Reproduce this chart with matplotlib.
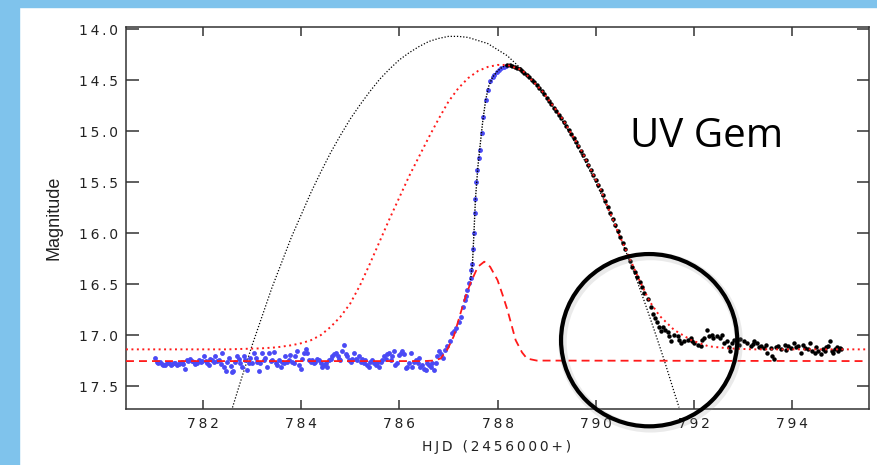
import numpy as np
import matplotlib
matplotlib.use("Agg")
import matplotlib.pyplot as plt
from matplotlib.patches import Ellipse, Rectangle
from matplotlib.ticker import FuncFormatter

# quiescent data before the rise (blue)
quiet_x = [781.03, 781.06, 781.09, 781.12, 781.16, 781.19, 781.23, 781.27, 781.30, 781.34,
           781.37, 781.40, 781.43, 781.47, 781.50, 781.53, 781.57, 781.60, 781.64, 781.67,
           781.70, 781.74, 781.77, 781.81, 781.84, 781.88, 781.91, 781.95, 781.98, 782.01,
           782.05, 782.08, 782.12, 782.15, 782.18, 782.22, 782.25, 782.29, 782.32, 782.36,
           782.39, 782.42, 782.46, 782.49, 782.52, 782.56, 782.59, 782.62, 782.66, 782.69,
           782.73, 782.76, 782.80, 782.83, 782.86, 782.90, 782.93, 782.96, 783.00, 783.03,
           783.07, 783.10, 783.14, 783.17, 783.20, 783.24, 783.27, 783.31, 783.34, 783.38,
           783.41, 783.44, 783.48, 783.51, 783.54, 783.58, 783.61, 783.65, 783.68, 783.71,
           783.75, 783.78, 783.82, 783.85, 783.88, 783.92, 783.95, 783.99, 784.02, 784.05,
           784.09, 784.12, 784.16, 784.19, 784.22, 784.26, 784.29, 784.33, 784.36, 784.40,
           784.43, 784.46, 784.50, 784.53, 784.57, 784.60, 784.63, 784.67, 784.70, 784.74,
           784.77, 784.80, 784.84, 784.87, 784.91, 784.94, 784.97, 785.01, 785.04, 785.07,
           785.11, 785.14, 785.18, 785.21, 785.24, 785.28, 785.31, 785.35, 785.38, 785.41,
           785.45, 785.48, 785.52, 785.55, 785.58, 785.62, 785.65, 785.69, 785.72, 785.75,
           785.79, 785.82, 785.86, 785.89, 785.92, 785.96, 785.99, 786.03, 786.06, 786.09,
           786.13, 786.16, 786.20, 786.23, 786.26, 786.30, 786.33, 786.37, 786.40, 786.43,
           786.47, 786.50, 786.54, 786.57, 786.60, 786.64, 786.67, 786.70, 786.74, 786.77,
           786.81, 786.84]
quiet_mag = [17.22, 17.26, 17.27, 17.26, 17.28, 17.29, 17.29, 17.27, 17.27, 17.29,
             17.28, 17.27, 17.27, 17.29, 17.28, 17.27, 17.26, 17.28, 17.33, 17.24,
             17.25, 17.23, 17.25, 17.26, 17.28, 17.27, 17.24, 17.26, 17.25, 17.21,
             17.25, 17.27, 17.29, 17.23, 17.24, 17.26, 17.21, 17.25, 17.24, 17.28,
             17.18, 17.31, 17.35, 17.26, 17.22, 17.30, 17.36, 17.35, 17.26, 17.21,
             17.23, 17.27, 17.31, 17.21, 17.24, 17.34, 17.27, 17.22, 17.27, 17.18,
             17.22, 17.26, 17.35, 17.27, 17.18, 17.24, 17.22, 17.31, 17.18, 17.25,
             17.24, 17.17, 17.27, 17.29, 17.24, 17.31, 17.26, 17.27, 17.21, 17.26,
             17.24, 17.20, 17.26, 17.27, 17.21, 17.16, 17.29, 17.33, 17.23, 17.18,
             17.14, 17.18, 17.24, 17.26, 17.24, 17.27, 17.26, 17.23, 17.24, 17.27,
             17.31, 17.29, 17.27, 17.31, 17.24, 17.23, 17.21, 17.19, 17.18, 17.21,
             17.23, 17.24, 17.16, 17.10, 17.19, 17.21, 17.24, 17.26, 17.23, 17.18,
             17.23, 17.24, 17.21, 17.26, 17.23, 17.27, 17.24, 17.29, 17.31, 17.26,
             17.24, 17.27, 17.29, 17.27, 17.31, 17.26, 17.24, 17.21, 17.23, 17.19,
             17.18, 17.24, 17.21, 17.16, 17.29, 17.27, 17.20, 17.18, 17.16, 17.19,
             17.32, 17.31, 17.27, 17.18, 17.31, 17.26, 17.24, 17.27, 17.22, 17.31,
             17.29, 17.33, 17.34, 17.27, 17.29, 17.31, 17.27, 17.34, 17.27, 17.21,
             17.16, 17.19]

# rise (blue)
rise_x = [786.88, 786.93, 786.98, 787.03, 787.08, 787.12, 787.16, 787.21, 787.25, 787.30,
          787.33, 787.35, 787.38, 787.41, 787.45, 787.47, 787.49, 787.50, 787.52, 787.54,
          787.55, 787.57, 787.59, 787.62, 787.64, 787.68, 787.71, 787.76, 787.80, 787.85,
          787.90, 787.93, 787.98, 788.03, 788.08, 788.13, 788.18]
rise_mag = [17.22, 17.15, 17.11, 17.06, 16.98, 16.96, 16.93, 16.87, 16.82, 16.72,
            16.66, 16.62, 16.56, 16.49, 16.44, 16.36, 16.30, 16.16, 16.00, 15.80,
            15.67, 15.50, 15.38, 15.26, 15.18, 15.02, 14.86, 14.69, 14.60, 14.51,
            14.47, 14.45, 14.42, 14.40, 14.38, 14.37, 14.36]

# thin black line drawn through the steep part of the rise
riseline_x = [787.45, 787.49, 787.52, 787.55, 787.60, 787.65, 787.70, 787.76, 787.82,
              787.90, 788.00, 788.10, 788.20]
riseline_mag = [16.46, 16.30, 16.00, 15.67, 15.35, 15.12, 14.90, 14.69, 14.56,
                14.47, 14.41, 14.37, 14.35]

# decline and post-outburst data (black)
decl_x = [788.20, 788.25, 788.30, 788.35, 788.40, 788.45, 788.50, 788.55, 788.60, 788.65,
          788.70, 788.75, 788.80, 788.85, 788.90, 788.95, 789.00, 789.05, 789.10, 789.15,
          789.20, 789.25, 789.30, 789.35, 789.40, 789.45, 789.50, 789.55, 789.60, 789.65,
          789.70, 789.75, 789.80, 789.85, 789.90, 789.95, 790.00, 790.05, 790.10, 790.15,
          790.20, 790.25, 790.30, 790.35, 790.40, 790.45, 790.50, 790.55, 790.60, 790.65,
          790.70, 790.75, 790.80, 790.85, 790.90, 790.95, 790.99, 791.06, 791.13, 791.16,
          791.20, 791.26, 791.30, 791.33, 791.37, 791.42, 791.47, 791.50, 791.53, 791.60,
          791.67, 791.70, 791.74, 791.81, 791.88, 791.94, 791.97, 792.00, 792.08, 792.14,
          792.17, 792.20, 792.27, 792.30, 792.37, 792.40, 792.47, 792.54, 792.57, 792.61,
          792.68, 792.71, 792.74, 792.78, 792.81, 792.88, 792.92, 792.95, 793.02, 793.09,
          793.16, 793.20, 793.23, 793.29, 793.33, 793.37, 793.43, 793.47, 793.50, 793.57,
          793.60, 793.64, 793.68, 793.71, 793.78, 793.85, 793.88, 793.92, 793.99, 794.05,
          794.09, 794.12, 794.19, 794.22, 794.26, 794.33, 794.36, 794.40, 794.46, 794.50,
          794.53, 794.60, 794.63, 794.67, 794.70, 794.74, 794.77, 794.81, 794.84, 794.87,
          794.91, 794.94, 794.98, 795.00]
decl_mag = [14.35, 14.35, 14.36, 14.37, 14.38, 14.39, 14.41, 14.43, 14.45, 14.47,
            14.50, 14.52, 14.55, 14.58, 14.61, 14.64, 14.67, 14.70, 14.73, 14.77,
            14.80, 14.84, 14.87, 14.91, 14.95, 14.99, 15.03, 15.07, 15.11, 15.15,
            15.19, 15.23, 15.28, 15.33, 15.38, 15.43, 15.48, 15.53, 15.58, 15.63,
            15.68, 15.74, 15.80, 15.86, 15.92, 15.98, 16.04, 16.10, 16.16, 16.22,
            16.27, 16.33, 16.38, 16.43, 16.48, 16.53, 16.59, 16.65, 16.72, 16.79,
            16.83, 16.87, 16.92, 16.96, 16.92, 16.95, 16.97, 17.01, 17.06, 17.00,
            17.01, 17.05, 17.08, 17.06, 17.05, 17.03, 17.06, 17.08, 17.10, 17.11,
            17.05, 17.03, 16.95, 17.01, 17.00, 17.03, 17.01, 17.03, 17.00, 17.08,
            17.06, 17.12, 17.16, 17.08, 17.05, 17.06, 17.10, 17.04, 17.06, 17.08,
            17.11, 17.09, 17.06, 17.08, 17.12, 17.11, 17.13, 17.10, 17.18, 17.13,
            17.21, 17.23, 17.12, 17.11, 17.14, 17.10, 17.15, 17.11, 17.13, 17.08,
            17.12, 17.11, 17.18, 17.10, 17.13, 17.14, 17.08, 17.16, 17.18, 17.12,
            17.16, 17.19, 17.14, 17.16, 17.12, 17.11, 17.06, 17.16, 17.18, 17.14,
            17.12, 17.16, 17.13, 17.14]

# model curves
dotted_red_x = [780.43, 782.50, 783.20, 783.50, 783.80, 784.00, 784.20, 784.40, 784.60,
                784.80, 785.00, 785.20, 785.40, 785.60, 785.80, 786.00, 786.20, 786.40,
                786.60, 786.80, 787.00, 787.20, 787.40, 787.60, 787.80, 788.00, 788.20,
                788.50, 788.90, 789.30, 789.70, 790.10, 790.50, 790.90, 791.10, 791.30,
                791.60, 791.95, 792.30, 792.70, 793.20, 795.50]
dotted_red_mag = [17.14, 17.14, 17.13, 17.12, 17.10, 17.08, 17.05, 17.00, 16.92,
                  16.82, 16.69, 16.51, 16.30, 16.08, 15.86, 15.65, 15.44, 15.25,
                  15.06, 14.88, 14.71, 14.58, 14.48, 14.41, 14.37, 14.35, 14.35,
                  14.40, 14.60, 14.86, 15.18, 15.57, 16.04, 16.47, 16.67, 16.81,
                  16.95, 17.05, 17.11, 17.13, 17.14, 17.14]

dashed_red_x = [780.43, 786.50, 786.70, 786.84, 786.98, 787.11, 787.25, 787.35, 787.45,
                787.60, 787.73, 787.85, 788.00, 788.10, 788.20, 788.37, 788.50, 788.60,
                788.80, 795.50]
dashed_red_mag = [17.255, 17.255, 17.25, 17.23, 17.14, 17.01, 16.78, 16.62, 16.49,
                  16.33, 16.28, 16.33, 16.46, 16.60, 16.75, 17.05, 17.17, 17.23,
                  17.25, 17.255]

dotted_black_x = [782.6, 782.8, 783.0, 783.2, 783.4, 783.6, 783.8, 784.0, 784.2, 784.4,
                  784.6, 784.8, 785.0, 785.2, 785.4, 785.6, 785.8, 786.0, 786.2, 786.4,
                  786.6, 786.8, 787.0, 787.2, 787.4, 787.6, 787.8, 788.0, 788.2, 788.4,
                  788.6, 788.8, 789.0, 789.2, 789.4, 789.6, 789.8, 790.0, 790.2, 790.4,
                  790.6, 790.8, 791.0, 791.2, 791.4, 791.6, 791.7]
dotted_black_mag = [17.71, 17.40, 17.10, 16.82, 16.54, 16.29, 16.04, 15.82, 15.60, 15.40,
                    15.21, 15.04, 14.88, 14.74, 14.61, 14.49, 14.39, 14.30, 14.23, 14.17,
                    14.12, 14.09, 14.07, 14.07, 14.08, 14.11, 14.14, 14.20, 14.26, 14.35,
                    14.44, 14.55, 14.67, 14.81, 14.96, 15.13, 15.31, 15.50, 15.71, 15.93,
                    16.16, 16.41, 16.68, 16.96, 17.25, 17.56, 17.71]

y_ticks = [14.0, 14.5, 15.0, 15.5, 16.0, 16.5, 17.0, 17.5]
x_ticks = [782, 784, 786, 788, 790, 792, 794]

TS = '\u2009'


def spaced(s):
    return TS.join(s)


fig = plt.figure(figsize=(8.77, 4.65), dpi=100)
fig.patch.set_facecolor('white')
# light blue slide border
fig.patches.append(Rectangle((0, 0), 19 / 877, 1, transform=fig.transFigure,
                             color='#7fc3ec', zorder=0))
fig.patches.append(Rectangle((0, 1 - 7 / 465), 1, 7 / 465, transform=fig.transFigure,
                             color='#7fc3ec', zorder=0))

ax = fig.add_axes([126 / 877, 1 - 409 / 465, 743 / 877, 382.3 / 465])

ax.plot(dotted_black_x, dotted_black_mag, color='black', lw=0.9,
        linestyle=(0, (1, 1.5)), zorder=2)
ax.plot(quiet_x, quiet_mag, 'o', color='#4a4af5', ms=3.5, mew=0, zorder=3)
ax.plot(rise_x, rise_mag, 'o', color='#4a4af5', ms=3.5, mew=0, zorder=3)
ax.plot(riseline_x, riseline_mag, color='black', lw=1.0, linestyle=(0, (1, 1)), zorder=4)
ax.plot(decl_x, decl_mag, 'o', color='black', ms=3.2, mew=0, zorder=3)
ax.plot(dashed_red_x, dashed_red_mag, color='#ff1a1a', lw=1.3,
        linestyle=(0, (4.4, 2.8)), zorder=5)
ax.plot(dotted_red_x, dotted_red_mag, color='#ff1a1a', lw=1.4,
        linestyle=(0, (1, 1.8)), zorder=5)

# highlight circle, with a faint shadow
shadow = Ellipse((791.12, 17.07), 3.59, 1.69, fill=False, edgecolor='#999999',
                 lw=6, alpha=0.2, clip_on=False, zorder=6)
ax.add_patch(shadow)
ring = Ellipse((791.09, 17.05), 3.59, 1.69, fill=False, edgecolor='black',
               lw=3.0, clip_on=False, zorder=7)
ax.add_patch(ring)

ax.set_xlim(780.43, 795.57)
ax.set_ylim(17.725, 13.975)
ax.set_xticks(x_ticks)
ax.set_yticks(y_ticks)
ax.xaxis.set_major_formatter(FuncFormatter(lambda v, p: spaced('%d' % v)))
ax.yaxis.set_major_formatter(FuncFormatter(lambda v, p: spaced('%.1f' % v)))
ax.tick_params(axis='y', direction='in', length=9, width=1.1, color='#333333',
               labelsize=10, pad=6, right=True, labelcolor='#222222')
ax.tick_params(axis='x', direction='in', length=6.5, width=1.1, color='#333333',
               labelsize=10, pad=6, top=True, labelcolor='#222222')
for sp in ax.spines.values():
    sp.set_color('#333333')
    sp.set_linewidth(1.1)

fig.text(497 / 877, 1 - 447 / 465, spaced('HJD (2456000+)'), ha='center', va='center',
         fontsize=10, color='#222222')
fig.text(54 / 877, 1 - 218 / 465, 'Magnitude', rotation=90, ha='center', va='center',
         fontsize=13, family=['Liberation Sans Narrow', 'Liberation Sans'], color='#222222')
fig.text(630 / 877, 1 - 147 / 465, 'UV Gem', ha='left', va='baseline',
         fontsize=29, family=['Open Sans', 'DejaVu Sans'], color='black')

fig.savefig('out.png', dpi=100)
